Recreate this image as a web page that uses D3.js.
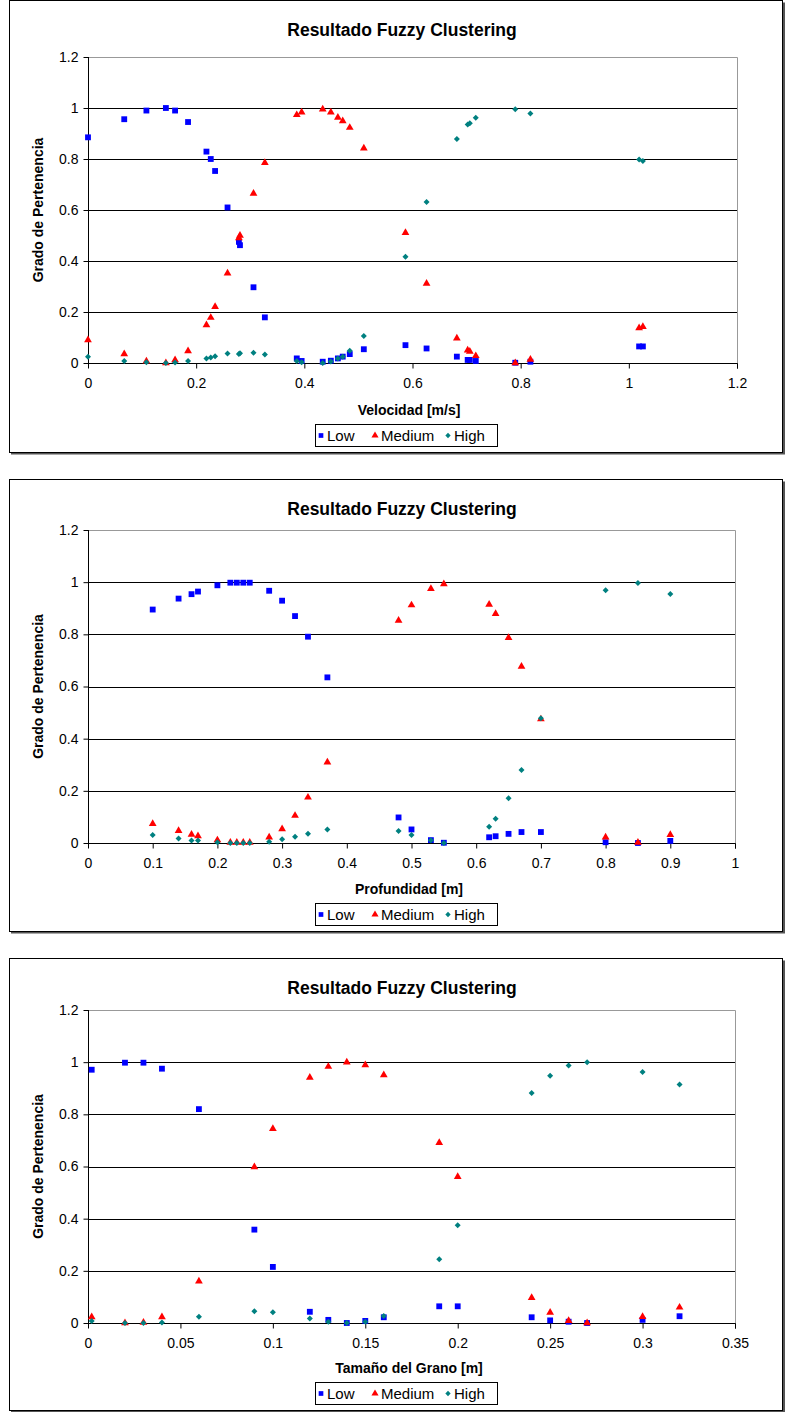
<!DOCTYPE html>
<html>
<head>
<meta charset="utf-8">
<title>Resultado Fuzzy Clustering</title>
<script src="https://d3js.org/d3.v7.min.js"></script>
<style>
body { margin:0; background:#fff; }
text { font-family: "Liberation Sans", Arial, sans-serif; }
</style>
</head>
<body>
<script>
// --- data ---
var velocidad = [0, 0.067, 0.108, 0.144, 0.161, 0.185, 0.219, 0.227, 0.235, 0.258, 0.279, 0.281, 0.306, 0.327, 0.386, 0.395, 0.434, 0.449, 0.462, 0.471, 0.484, 0.51, 0.587, 0.626, 0.682, 0.702, 0.706, 0.717, 0.79, 0.818, 1.019, 1.026];
var velLow  = [0.885, 0.956, 0.99, 1.0, 0.99, 0.945, 0.829, 0.80, 0.753, 0.61, 0.475, 0.462, 0.297, 0.179, 0.018, 0.008, 0.005, 0.009, 0.018, 0.025, 0.035, 0.054, 0.07, 0.057, 0.025, 0.012, 0.012, 0.008, 0.001, 0.005, 0.065, 0.065];
var velMed  = [0.09, 0.035, 0.007, 0.0, 0.012, 0.047, 0.149, 0.178, 0.221, 0.352, 0.49, 0.50, 0.665, 0.785, 0.973, 0.983, 0.995, 0.983, 0.963, 0.949, 0.923, 0.842, 0.511, 0.312, 0.097, 0.05, 0.045, 0.028, 0.0, 0.014, 0.137, 0.142];
var velHigh = [0.025, 0.008, 0.003, 0.0, 0.002, 0.008, 0.018, 0.022, 0.026, 0.037, 0.035, 0.038, 0.04, 0.033, 0.008, 0.003, 0.0, 0.006, 0.018, 0.025, 0.048, 0.106, 0.417, 0.631, 0.878, 0.935, 0.94, 0.962, 0.995, 0.978, 0.798, 0.792];

var profundidad = [0.1, 0.14, 0.16, 0.17, 0.2, 0.22, 0.23, 0.24, 0.25, 0.28, 0.3, 0.32, 0.34, 0.37, 0.48, 0.5, 0.53, 0.55, 0.62, 0.63, 0.65, 0.67, 0.7, 0.8, 0.85, 0.9];
var profLow  = [0.895, 0.937, 0.954, 0.964, 0.988, 0.998, 0.998, 0.998, 0.998, 0.967, 0.929, 0.87, 0.791, 0.635, 0.098, 0.052, 0.011, 0.001, 0.022, 0.026, 0.035, 0.042, 0.042, 0.003, 0.0, 0.008];
var profMed  = [0.074, 0.047, 0.033, 0.027, 0.011, 0.002, 0.002, 0.002, 0.002, 0.022, 0.054, 0.105, 0.175, 0.31, 0.853, 0.912, 0.975, 0.993, 0.914, 0.879, 0.787, 0.677, 0.475, 0.022, 0.002, 0.032];
var profHigh = [0.031, 0.017, 0.01, 0.01, 0.003, 0.0, 0.0, 0.0, 0.0, 0.005, 0.014, 0.024, 0.035, 0.052, 0.046, 0.031, 0.011, 0.0, 0.062, 0.093, 0.172, 0.28, 0.478, 0.969, 0.997, 0.955];

var grano = [0.002, 0.02, 0.03, 0.04, 0.06, 0.09, 0.1, 0.12, 0.13, 0.14, 0.15, 0.16, 0.19, 0.2, 0.24, 0.25, 0.26, 0.27, 0.3, 0.32];
var granoLow  = [0.971, 0.998, 0.998, 0.975, 0.82, 0.358, 0.215, 0.043, 0.012, 0.0, 0.008, 0.022, 0.064, 0.064, 0.022, 0.01, 0.005, 0.0, 0.012, 0.026];
var granoMed  = [0.023, 0.0, 0.002, 0.023, 0.16, 0.598, 0.745, 0.941, 0.983, 1.0, 0.989, 0.951, 0.691, 0.561, 0.097, 0.04, 0.009, 0.0, 0.024, 0.06];
var granoHigh = [0.008, 0.0, 0.0, 0.002, 0.024, 0.045, 0.041, 0.017, 0.005, 0.0, 0.005, 0.027, 0.244, 0.375, 0.882, 0.948, 0.987, 1.0, 0.962, 0.914];

var seriesNames = ["Low", "Medium", "High"];
var yTicks = [0, 0.2, 0.4, 0.6, 0.8, 1, 1.2];
var velTicks = [0, 0.2, 0.4, 0.6, 0.8, 1, 1.2];
var profTicks = [0, 0.1, 0.2, 0.3, 0.4, 0.5, 0.6, 0.7, 0.8, 0.9, 1];
var granoTicks = [0, 0.05, 0.1, 0.15, 0.2, 0.25, 0.3, 0.35];

var chartTitle = "Resultado Fuzzy Clustering";
var yTitle = "Grado de Pertenencia";

var charts = [
  {x: velocidad, s: [velLow, velMed, velHigh], ticks: velTicks, xTitle: "Velocidad [m/s]",
   top: 0, pTop: 57, pBot: 363, pRight: 737},
  {x: profundidad, s: [profLow, profMed, profHigh], ticks: profTicks, xTitle: "Profundidad [m]",
   top: 479, pTop: 530, pBot: 843, pRight: 735},
  {x: grano, s: [granoLow, granoMed, granoHigh], ticks: granoTicks, xTitle: "Tama\u00f1o del Grano [m]",
   top: 958, pTop: 1010, pBot: 1323, pRight: 735}
];

var colors = ["#0000FF", "#FF0000", "#008080"];
var shapes = [d3.symbol().type(d3.symbolSquare).size(34),
              d3.symbol().type(d3.symbolTriangle).size(26),
              d3.symbol().type(d3.symbolSquare).size(18)];
var rot = [0, 0, 45];

var W = 794, H = 1412;
var svg = d3.select("body").append("svg").attr("width", W).attr("height", H);

charts.forEach(function(c){
  var g = svg.append("g");
  var pLeft = 88;
  var fTop = c.top + 0.5, fBot = c.top + 452.5;

  // chart area frame with shadow
  g.append("rect").attr("x", 11).attr("y", fTop + 2).attr("width", 774).attr("height", fBot - fTop)
    .attr("fill", "#555");
  g.append("rect").attr("x", 9.5).attr("y", fTop).attr("width", 773).attr("height", fBot - fTop)
    .attr("fill", "#fff").attr("stroke", "#000").attr("stroke-width", 1);

  var x = d3.scaleLinear().domain([0, c.ticks[c.ticks.length-1]]).range([pLeft, c.pRight]);
  var y = d3.scaleLinear().domain([0, 1.2]).range([c.pBot, c.pTop]);

  // title
  g.append("text").attr("x", 402).attr("y", c.top + 36).attr("text-anchor", "middle")
    .attr("font-size", 17.5).attr("font-weight", "bold").text(chartTitle);

  // plot area border (top/right gray)
  g.append("path").attr("d", "M" + pLeft + "," + (c.pTop + 0.5) + "H" + (c.pRight + 0.5) + "V" + c.pBot)
    .attr("fill", "none").attr("stroke", "#999");

  // gridlines
  g.selectAll(".grid").data(yTicks.slice(1, -1)).enter().append("line")
    .attr("x1", pLeft).attr("x2", c.pRight)
    .attr("y1", function(d){ return Math.round(y(d)) + 0.5; })
    .attr("y2", function(d){ return Math.round(y(d)) + 0.5; })
    .attr("stroke", "#000").attr("stroke-width", 1);

  // axes
  var ya = g.append("g").attr("transform", "translate(" + (pLeft + 0.5) + ",0)")
    .call(d3.axisLeft(y).tickValues(yTicks).tickSize(5).tickPadding(5).tickFormat(function(d){ return String(d); }));
  var xa = g.append("g").attr("transform", "translate(0," + (c.pBot + 0.5) + ")")
    .call(d3.axisBottom(x).tickValues(c.ticks).tickSize(5).tickPadding(10).tickFormat(function(d){ return String(d); }));
  [ya, xa].forEach(function(a){
    a.select(".domain").attr("stroke", "#000");
    a.selectAll(".tick line").attr("stroke", "#000");
    a.selectAll("text").attr("font-size", 14).attr("fill", "#000")
      .attr("font-family", "'Liberation Sans', Arial, sans-serif");
  });
  ya.select(".domain").attr("d", "M0," + c.pTop + "V" + c.pBot);
  xa.select(".domain").attr("d", "M" + pLeft + ",0H" + (c.pRight + 0.5) + "M" + (c.pRight + 0.5) + ",0V5");

  // axis titles
  g.append("text").attr("x", 409).attr("y", c.top + 415).attr("text-anchor", "middle")
    .attr("font-size", 14).attr("font-weight", "bold").text(c.xTitle);
  g.append("text").attr("transform", "translate(43," + ((c.pTop + c.pBot) / 2) + ") rotate(-90)")
    .attr("text-anchor", "middle").attr("font-size", 14).attr("font-weight", "bold").text(yTitle);

  // points: Low first, then Medium, then High on top
  c.s.forEach(function(vals, k){
    g.append("g").selectAll("path").data(vals).enter().append("path")
      .attr("d", shapes[k])
      .attr("transform", function(d, i){
        return "translate(" + x(c.x[i]) + "," + y(d) + ") rotate(" + rot[k] + ")";
      })
      .attr("fill", colors[k]);
  });

  // legend
  var lg = g.append("g").attr("transform", "translate(315," + (c.top + 424) + ")");
  lg.append("rect").attr("x", 0.5).attr("y", 0.5).attr("width", 182).attr("height", 22)
    .attr("fill", "#fff").attr("stroke", "#000");
  var lx = [6, 60, 133];
  seriesNames.forEach(function(n, k){
    var sh = k === 1 ? d3.symbol().type(d3.symbolTriangle).size(22) : d3.symbol().type(d3.symbolSquare).size(k === 0 ? 22 : 14);
    lg.append("path").attr("d", sh)
      .attr("transform", "translate(" + lx[k] + ",11.5) rotate(" + rot[k] + ")")
      .attr("fill", colors[k]);
    lg.append("text").attr("x", lx[k] + 6).attr("y", 16.5).attr("font-size", 15).text(n);
  });
});
</script>
</body>
</html>
